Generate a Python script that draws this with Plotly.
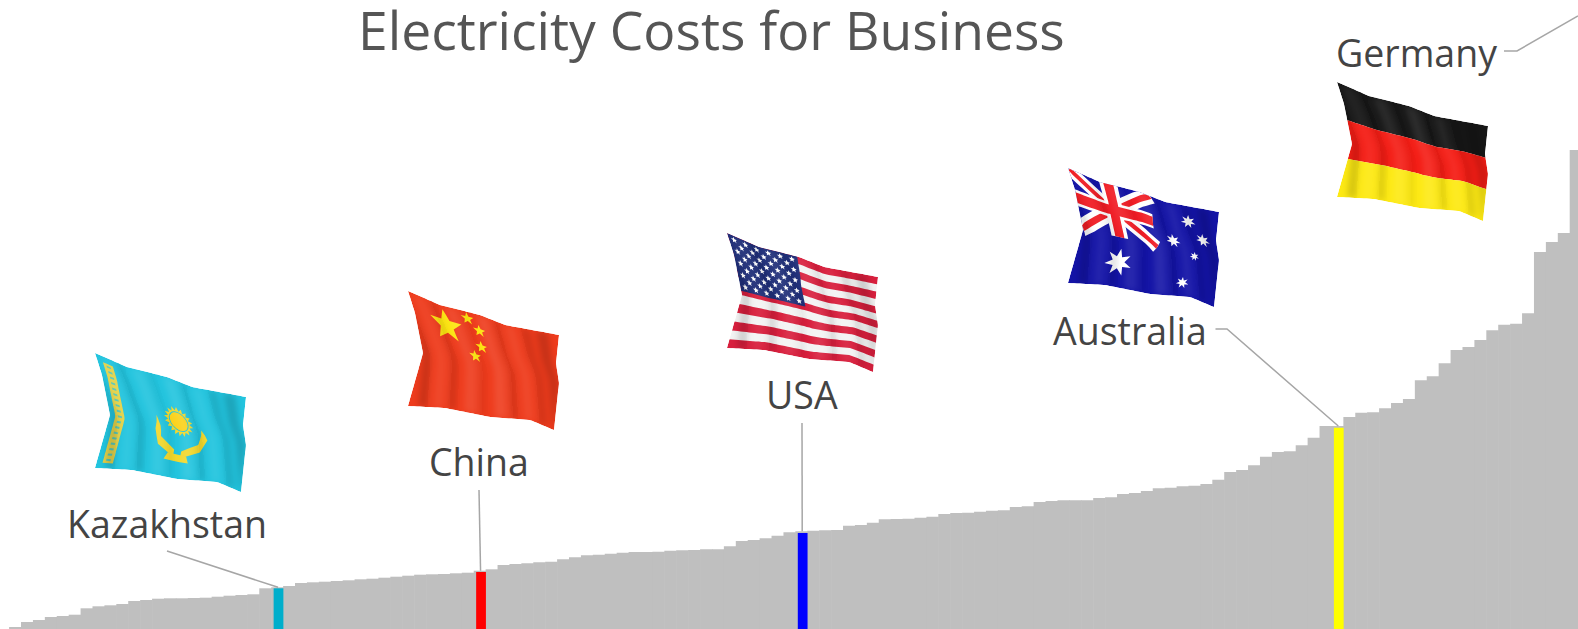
import base64
import math
import numpy as np
import plotly.graph_objects as go

# ---------- data (bar heights, arbitrary cost units) ----------
bar_values = [
    1.3, 7, 9, 12, 13, 14.3, 20.7, 22.7, 23.7, 25, 28, 29, 30.3, 30.7, 30.7, 31, 31.3, 32.3, 33.3, 34,
    34.7, 40.7, 41.7, 43, 46, 46.7, 47.3, 48, 48.7, 49.7, 50.3, 51.3, 52.3, 53.3, 54.3, 54.7, 55, 55.7, 56.3, 58.3,
    59.7, 64, 65, 65.7, 66.7, 67.3, 69.7, 71.7, 73.7, 74.3, 75.3, 76.3, 77, 77, 77.3, 78.3, 78.7, 79, 79.7, 79.7,
    82.7, 88, 89, 90.7, 93.3, 96.7, 97.7, 98.3, 98.7, 99, 103.3, 104, 106.3, 109.7, 110, 110.3, 111.3, 112.3, 115, 116,
    116.3, 117.3, 118.3, 118.7, 122, 122.7, 127, 128, 128.7, 128.7, 128.7, 131, 131.7, 135, 136, 138, 140.7, 141.3, 142.7, 143.3,
    145, 149.3, 157, 159, 163.7, 172.3, 177, 177.7, 183.7, 191.3, 203, 203, 212, 216.3, 216.7, 220.7, 226, 230, 248.7, 252.7,
    265.7, 279, 282, 289, 298.7, 304.3, 305.3, 315.7, 377, 387, 396, 479,
]
highlight_names = ["Kazakhstan", "China", "USA", "Australia"]
highlight_index = [22, 39, 66, 111]
highlight_values = [40.7, 57, 96, 201.3]
highlight_colors = ["#00AECB", "#FF0000", "#0000FF", "#FFFF00"]
label_names = ["Kazakhstan", "China", "USA", "Australia", "Germany"]
title_text = "Electricity Costs for Business"

# ---------- layout constants ----------
W, H = 1578, 629
STEP, LEFT = 11.913, 9.4
GRAY = "#BFBFBF"


def dx(px):
    return (px - LEFT) / STEP - 0.5


def dy(py):
    return H - py


label_pos = {"Kazakhstan": (167, 523), "China": (479, 461), "USA": (802, 394), "Australia": (1130, 330), "Germany": (1416, 53)}
flag_pos = {"Kazakhstan": (95, 353), "China": (408, 291), "USA": (727, 233), "Australia": (1068, 168), "Germany": (1337, 82)}

# ---------- waving-flag template ----------
T = np.array([(0, 0), (32, 14), (72, 24), (97, 34), (151, 44)], float)
B = np.array([(0, 115), (37, 117), (82, 126), (122, 129), (146, 139)], float)
Lf = np.array([(0, 0), (7, 22), (15, 62), (0, 115)], float)
Rt = np.array([(151, 44), (148, 72), (151, 92), (146, 139)], float)
PAD = 6
FW, FH = 160, 150


def curve(P, t):
    s = np.r_[0, np.cumsum(np.hypot(*np.diff(P, axis=0).T))]
    s = s / s[-1]
    return np.array([np.interp(t, s, P[:, 0]), np.interp(t, s, P[:, 1])])


def warp(u, v):
    u, v = min(max(u, 0), 1), min(max(v, 0), 1)
    p = (1 - v) * curve(T, u) + v * curve(B, u) + (1 - u) * curve(Lf, v) + u * curve(Rt, v)
    p -= (1 - u) * (1 - v) * T[0] + u * (1 - v) * T[-1] + (1 - u) * v * B[0] + u * v * B[-1]
    return p + PAD


def poly(pts, fill, op=1.0, dens=0.02):
    out = []
    n = len(pts)
    for i in range(n):
        a, b = pts[i], pts[(i + 1) % n]
        m = max(1, int(max(abs(a[0] - b[0]), abs(a[1] - b[1])) / dens))
        for j in range(m):
            t = j / m
            out.append(warp(a[0] + (b[0] - a[0]) * t, a[1] + (b[1] - a[1]) * t))
    d = " ".join(f"{p[0]:.1f},{p[1]:.1f}" for p in out)
    o = f' fill-opacity="{op}"' if op < 1 else ""
    return f'<polygon points="{d}" fill="{fill}"{o}/>'


def rect(u0, v0, u1, v1, fill, op=1.0):
    return poly([(u0, v0), (u1, v0), (u1, v1), (u0, v1)], fill, op)


def star(uc, vc, r, fill, n=5, inner=0.42, rot=-math.pi / 2):
    pts = []
    for i in range(2 * n):
        rr = r if i % 2 == 0 else r * inner
        a = rot + i * math.pi / n
        pts.append((uc + rr * math.cos(a) / 148, vc + rr * math.sin(a) / 105))
    return poly(pts, fill, dens=0.05)


def circle(uc, vc, r, fill):
    return poly([(uc + r * math.cos(a) / 148, vc + r * math.sin(a) / 105)
                 for a in np.linspace(0, 2 * math.pi, 28, endpoint=False)], fill, dens=0.05)


def band(p, q, w, fill):
    """straight band between uv points p and q, width w in px"""
    ax, ay = p[0] * 80, p[1] * 55
    bx, by = q[0] * 80, q[1] * 55
    L = math.hypot(bx - ax, by - ay)
    nx, ny = -(by - ay) / L * w / 2, (bx - ax) / L * w / 2
    return poly([((ax + nx) / 80, (ay + ny) / 55), ((bx + nx) / 80, (by + ny) / 55),
                 ((bx - nx) / 80, (by - ny) / 55), ((ax - nx) / 80, (ay - ny) / 55)], fill, dens=0.03)


# fold shading: soft blurred folds across the flag; positive lightens, negative darkens
fold_u = [0.0, .10, .20, .31, .40, .52, .62, .72, .82, .92]
fold_w = [.06, .07, .05, .08, .05, .08, .06, .06, .06, .08]
fold_a = [-.16, .07, -.13, .09, -.07, .10, -.10, .08, -.12, -.16]


def shading():
    s = []
    sl = 0.14
    for u, w, a in zip(fold_u, fold_w, fold_a):
        col = "#ffffff" if a > 0 else "#000000"
        pts = [(u + sl * (-.5), 0), (u + w + sl * (-.5), 0), (u + w + sl * .5, 1), (u + sl * .5, 1)]
        s.append(poly(pts, col, abs(a), dens=.1))
    return f'<g filter="url(#b)">{"".join(s)}</g>'


def germany():
    return rect(0, 0, 1, 1/3, "#161616") + rect(0, 1/3, 1, 2/3, "#F41D15") + rect(0, 2/3, 1, 1, "#FDE913")


def china():
    s = rect(0, 0, 1, 1, "#EE3B1C") + star(.23, .2, 17, "#FCE40F")
    for u, v in [(.39, .07), (.46, .17), (.46, .33), (.40, .44)]:
        s += star(u, v, 6.5, "#FCE40F")
    return s


def usa():
    s = rect(0, 0, 1, 1, "#F3F3F3")
    for i in range(0, 13, 2):
        s += rect(0, i / 13, 1, (i + 1) / 13, "#D81F3D")
    cu, cv = .47, .50
    s += rect(0, 0, cu, cv, "#1F2E78")
    for r in range(9):
        cols = 6 if r % 2 == 0 else 5
        for c in range(cols):
            off = 0.5 if r % 2 == 0 else 1.0
            s += star((c + off) * cu / 6, (r + .8) * cv / 9.6, 3.2, "#FFFFFF", inner=.45)
    return s


def australia():
    navy = "#1313A6"
    s = rect(0, 0, 1, 1, navy)
    cu, cv = .55, .52
    s += band((0, 0), (cu, cv), 8, "#FFFFFF") + band((0, cv), (cu, 0), 8, "#FFFFFF")
    s += band((0, 0), (cu, cv), 3, "#F01C24") + band((0, cv), (cu, 0), 3, "#F01C24")
    s += rect(cu * .39, 0, cu * .61, cv, "#FFFFFF") + rect(0, cv * .36, cu, cv * .64, "#FFFFFF")
    s += rect(cu * .44, 0, cu * .56, cv, "#F01C24") + rect(0, cv * .41, cu, cv * .59, "#F01C24")
    s += star(.30, .76, 14, "#FFFFFF", n=7, inner=.45)
    for u, v, r in [(.80, .17, 7.5), (.68, .41, 7.5), (.90, .34, 7.5), (.82, .55, 5), (.76, .85, 6.5)]:
        s += star(u, v, r, "#FFFFFF", n=7, inner=.45)
    return s


def kazakhstan():
    gold, sky = "#F1D72B", "#22C4DE"
    s = rect(0, 0, 1, 1, sky)
    s += rect(.04, .06, .11, .95, "#E3D34A")
    for i in range(18):
        v0 = .08 + i * .049
        s += rect(.06, v0, .09, v0 + .018, "#58C8B8")
    s += star(.52, .43, 15.5, gold, n=18, inner=.74)
    s += circle(.52, .43, 10.5, sky) + circle(.52, .43, 9.5, "#FBD21B")
    # eagle
    s += poly([(.36, .42), (.39, .62), (.50, .72), (.50, .79), (.38, .70), (.34, .56)], gold, dens=.05)
    s += poly([(.68, .46), (.66, .62), (.55, .72), (.55, .79), (.68, .70), (.72, .56)], gold, dens=.05)
    s += poly([(.46, .76), (.59, .76), (.61, .83), (.44, .83)], gold, dens=.05)
    return s


painters = {"Kazakhstan": kazakhstan, "China": china, "USA": usa, "Australia": australia, "Germany": germany}


def flag_uri(name):
    outline = poly([(0, 0), (1, 0), (1, 1), (0, 1)], "#000")
    svg = (f'<svg xmlns="http://www.w3.org/2000/svg" width="{FW*2}" height="{FH*2}" viewBox="0 0 {FW} {FH}">'
           f'<defs><clipPath id="c">{outline}</clipPath>'
           f'<filter id="b" x="-20%" y="-20%" width="140%" height="140%"><feGaussianBlur stdDeviation="3"/></filter></defs>'
           f'<g clip-path="url(#c)">{painters[name]()}{shading()}</g></svg>')
    return "data:image/svg+xml;base64," + base64.b64encode(svg.encode()).decode()


# ---------- figure ----------
xs = list(range(len(bar_values)))
fig = go.Figure()
fig.add_bar(x=xs, y=bar_values, width=1.05, marker=dict(color=GRAY, line=dict(width=0)), hoverinfo="skip")
fig.add_bar(x=[i + 0.09 for i in highlight_index], y=highlight_values, width=0.82,
            marker=dict(color=highlight_colors, line=dict(width=0)), text=highlight_names, hoverinfo="text",
            textposition="none")

# leader lines: label side given in page position, bar side taken from the data
lead = [
    [(dx(167), dy(551))],
    [(dx(479), dy(490))],
    [(dx(802), dy(423))],
    [(dx(1215.5), dy(329)), (dx(1227), dy(329))],
]
for i, pts in enumerate(lead):
    k = highlight_index[i]
    pts = pts + [(k + 0.05, bar_values[k])]
    fig.add_scatter(x=[p[0] for p in pts], y=[p[1] for p in pts], mode="lines",
                    line=dict(color="#A6A6A6", width=1.5), hoverinfo="skip")
ger = [(1504, 51), (1517, 51), (1578, 16)]
fig.add_scatter(x=[dx(p[0]) for p in ger], y=[dy(p[1]) for p in ger], mode="lines",
                line=dict(color="#A6A6A6", width=1.5), hoverinfo="skip")

annotations = [dict(text=title_text, x=711 / W, y=1 - 30 / H, xref="paper", yref="paper", xanchor="center",
                    yanchor="middle", showarrow=False, font=dict(family="Open Sans", size=53.4, color="#555555"))]
for name in label_names:
    px, py = label_pos[name]
    annotations.append(dict(text=name, x=px / W, y=1 - py / H, xref="paper", yref="paper", xanchor="center",
                            yanchor="middle", showarrow=False, font=dict(family="Open Sans", size=37.5, color="#444444")))

images = []
for name, (px, py) in flag_pos.items():
    images.append(dict(source=flag_uri(name), xref="paper", yref="paper", x=(px - PAD) / W, y=1 - (py - PAD) / H,
                       sizex=FW / W, sizey=FH / H, xanchor="left", yanchor="top", sizing="stretch", layer="above"))

fig.update_layout(
    width=W, height=H, margin=dict(l=0, r=0, t=0, b=0), showlegend=False, barmode="overlay",
    plot_bgcolor="white", paper_bgcolor="white", annotations=annotations, images=images,
    xaxis=dict(visible=False, range=[dx(0), dx(W)], fixedrange=True),
    yaxis=dict(visible=False, range=[0, H], fixedrange=True),
)
fig.write_html("out.html", config=dict(displayModeBar=False),
               post_script="document.body.style.margin='0';document.body.style.overflow='hidden';")
